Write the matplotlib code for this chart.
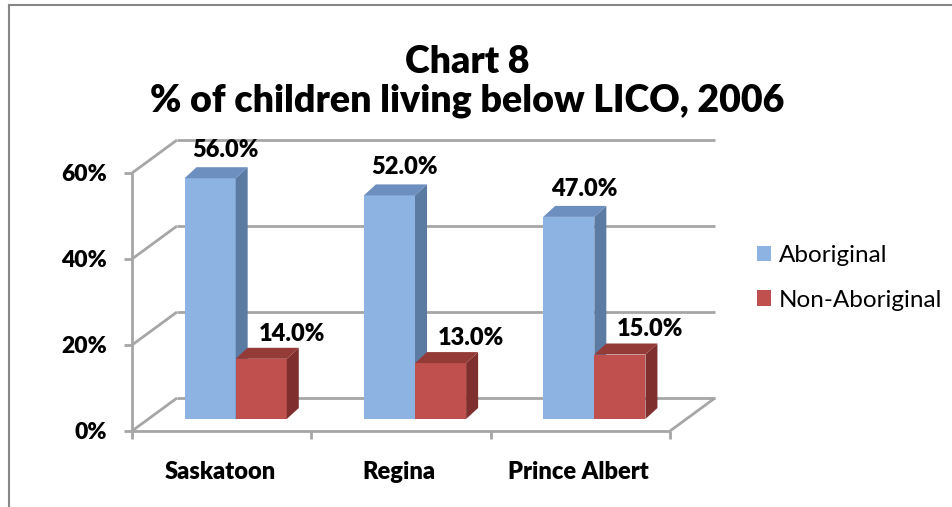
import matplotlib
matplotlib.use("Agg")
import matplotlib.pyplot as plt
from matplotlib.patches import Polygon
from matplotlib.lines import Line2D

plt.rcParams['font.family'] = ['Lato', 'DejaVu Sans']
BOLD = 'heavy'

# data
cities = ['Saskatoon', 'Regina', 'Prince Albert']
aboriginal = [56.0, 52.0, 47.0]
non_aboriginal = [14.0, 13.0, 15.0]
series_names = ['Aboriginal', 'Non-Aboriginal']
yticks = [0, 20, 40, 60]
ytick_labels = ['0%', '20%', '40%', '60%']

# colours (front, side, top)
blue = ('#8DB3E2', '#5B7BA3', '#6D8FBF')
red = ('#C0504D', '#7F302E', '#943A37')
grid_col = '#A6A6A6'

W, H = 952, 507
fig = plt.figure(figsize=(W / 100, H / 100), dpi=100)
# front plane of the 3d box
x0, x1, y0, y1 = 132, 670, 431, 173
ax = fig.add_axes([x0 / W, 1 - y0 / H, (x1 - x0) / W, (y0 - y1) / H])
ax.set_xlim(0, 3)
ax.set_ylim(0, 60)
ax.axis('off')

PX = (x1 - x0) / 3.0     # pixels per category
PY = (y0 - y1) / 60.0    # pixels per percent
FDX, FDY = 45 / PX, 33 / PY   # floor depth
BDX, BDY = 12 / PX, 11 / PY   # bar depth
OX, OY = 14 / PX, 12 / PY     # bar front-face offset
bw = 0.285

# walls and gridlines
gkw = dict(color=grid_col, lw=2, clip_on=False, solid_capstyle='butt', zorder=1)
for t in yticks:
    ax.plot([0, FDX], [t, t + FDY], **gkw)
    ax.plot([FDX, 3 + FDX], [t + FDY, t + FDY], **gkw)
ax.plot([0, 0], [0, 60], **gkw)
ax.plot([0, 3], [0, 0], **gkw)
ax.plot([3, 3 + FDX], [0, FDY], **gkw)
for t in yticks:
    ax.plot([-8 / PX, 0], [t, t], **gkw)
for i in range(4):
    ax.plot([i, i], [0, -8 / PY], **gkw)

for t, lab in zip(yticks, ytick_labels):
    ax.text(-25 / PX, t - 1.5 / PY, lab, ha='right', va='center', fontsize=16.5,
            fontweight=BOLD, clip_on=False)
for i, c in enumerate(cities):
    ax.text(i + 0.5 - 0.01, -41 / PY, c, ha='center', va='center',
            fontsize=17, fontweight=BOLD, clip_on=False)


def draw_prism(xl, val, cols, name):
    bars = ax.bar(xl + OX, val, width=bw, bottom=OY, align='edge',
                  color=cols[0], linewidth=0, zorder=3, label=name)
    xr = xl + OX + bw
    top = OY + val
    side = [(xr, OY), (xr + BDX, OY + BDY), (xr + BDX, top + BDY), (xr, top)]
    lid = [(xl + OX, top), (xr, top), (xr + BDX, top + BDY), (xl + OX + BDX, top + BDY)]
    ax.add_patch(Polygon(side, closed=True, color=cols[1], lw=0, zorder=3, clip_on=False))
    ax.add_patch(Polygon(lid, closed=True, color=cols[2], lw=0, zorder=3, clip_on=False))
    return bars


handles = []
for i in range(len(cities)):
    xc = i + 0.5
    hb = draw_prism(xc - bw, aboriginal[i], blue, series_names[0])
    hr = draw_prism(xc, non_aboriginal[i], red, series_names[1])
    if i == 0:
        handles = [hb, hr]
    ax.text(xc - bw + OX + 41 / PX, aboriginal[i] + OY + BDY + 6 / PY,
            '%.1f%%' % aboriginal[i], ha='center', va='bottom',
            fontsize=17, fontweight=BOLD, clip_on=False, zorder=5)
    ax.text(xc + OX + 56 / PX, non_aboriginal[i] + OY + BDY + 3 / PY,
            '%.1f%%' % non_aboriginal[i], ha='center', va='bottom',
            fontsize=17, fontweight=BOLD, clip_on=False, zorder=5)

fig.legend(handles, series_names, loc='center left',
           bbox_to_anchor=(735 / W, 1 - 278 / H), frameon=False,
           fontsize=17.5, handlelength=0.58, handleheight=0.58,
           handletextpad=0.33, labelspacing=0.95)

fig.text(467 / W, 1 - 62 / H, 'Chart 8', ha='center', va='center',
         fontsize=27, fontweight=BOLD)
fig.text(467 / W, 1 - 101 / H, '% of children living below LICO, 2006',
         ha='center', va='center', fontsize=27, fontweight=BOLD)

# chart border (left and top edges)
fig.add_artist(Line2D([9 / W, 9 / W], [0, 1 - 5 / H], color='#868686', lw=1.5))
fig.add_artist(Line2D([9 / W, 1], [1 - 5 / H, 1 - 5 / H], color='#868686', lw=1.5))

fig.savefig('out.png', dpi=100)
